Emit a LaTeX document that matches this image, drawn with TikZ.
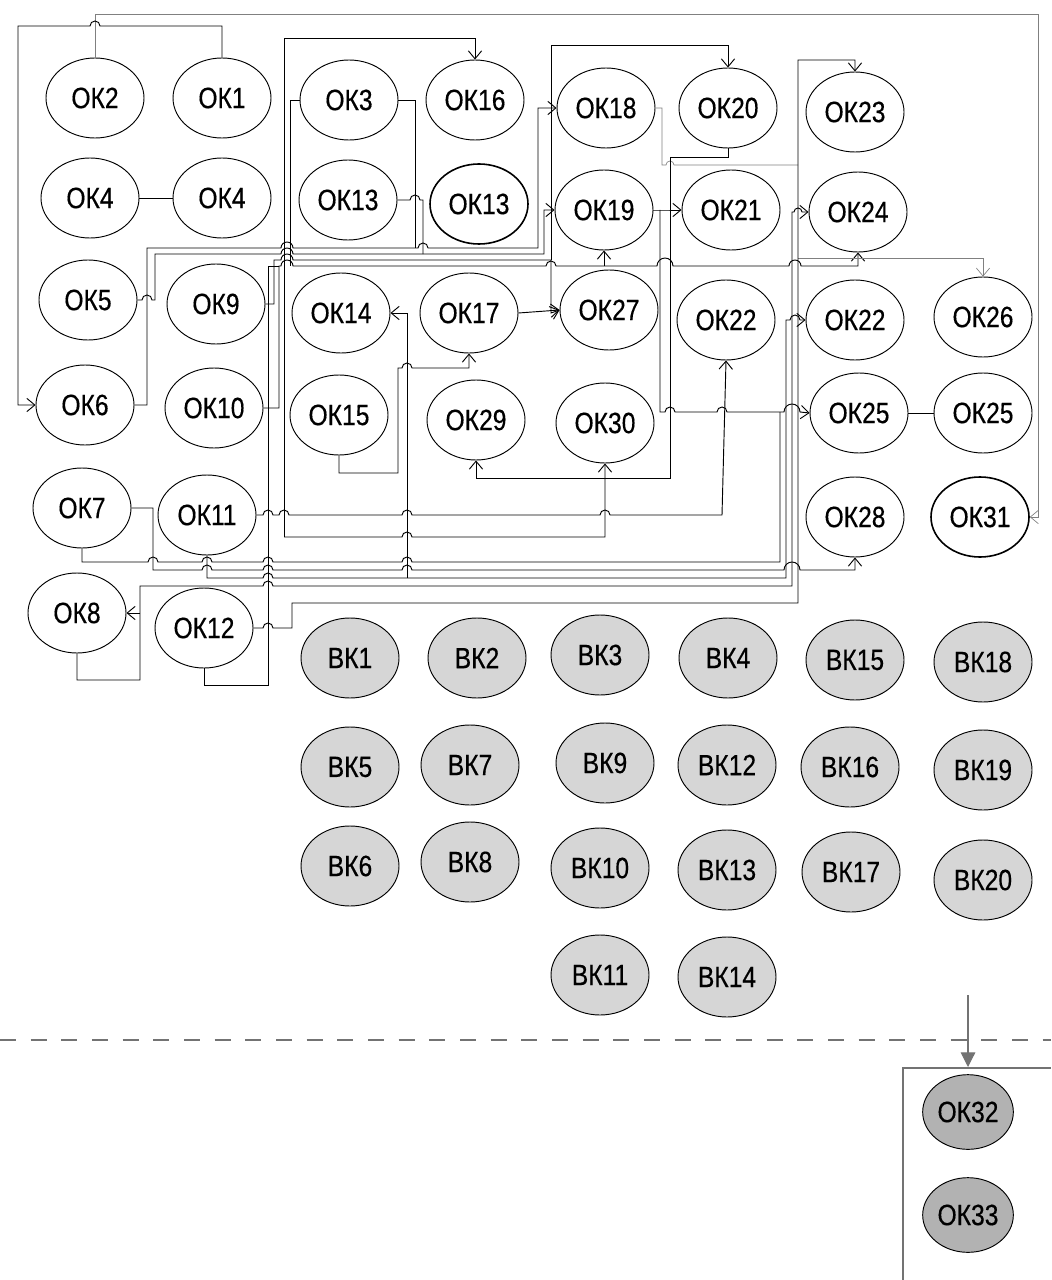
\documentclass[tikz,border=0pt]{standalone}
\usepackage{fontspec}
\setmainfont{Liberation Sans}[FakeStretch=0.84,FakeBold=0.4]
\usetikzlibrary{shapes.geometric,arrows.meta}
\begin{document}
\begin{tikzpicture}[x=0.75pt,y=-0.75pt,
 >={Straight Barb[length=6pt,width=10pt]},
 ok/.style={ellipse,draw,line width=0.7pt,minimum width=73.5pt,minimum height=60pt,inner sep=0pt,font=\fontsize{22}{23}\selectfont},
 bk/.style={ok,fill=black!16},
 fin/.style={ok,fill=black!30,minimum width=68pt,minimum height=56pt},
 wire/.style={line width=0.7pt},
 thinw/.style={line width=0.5pt,black!50},
 hop/.style args={#1/#2/#3}{insert path={-- ({#1-#3},#2) arc (180:360:#3)}}
]
\useasboundingbox (0,0) rectangle (1051,1280);

% ---------- OK nodes ----------
\node[ok] (ok2) at (95,98) {ОК2};
\node[ok] (ok1) at (222,98) {ОК1};
\node[ok] (ok3) at (349,100) {ОК3};
\node[ok] (ok16) at (475,100) {ОК16};
\node[ok] (ok18) at (606,108) {ОК18};
\node[ok] (ok20) at (728,108) {ОК20};
\node[ok] (ok23) at (855,112) {ОК23};
\node[ok] (ok4a) at (90,198) {ОК4};
\node[ok] (ok4b) at (222,198) {ОК4};
\node[ok] (ok13a) at (348,200) {ОК13};
\node[ok,line width=1.2pt] (ok13b) at (479,204) {ОК13};
\node[ok] (ok19) at (604,210) {ОК19};
\node[ok] (ok21) at (731,210) {ОК21};
\node[ok] (ok24) at (858,212) {ОК24};
\node[ok] (ok5) at (88,300) {ОК5};
\node[ok] (ok9) at (216,304) {ОК9};
\node[ok] (ok14) at (341,313) {ОК14};
\node[ok] (ok17) at (469,313) {ОК17};
\node[ok] (ok27) at (609,310) {ОК27};
\node[ok] (ok22a) at (726,320) {ОК22};
\node[ok] (ok22b) at (855,320) {ОК22};
\node[ok] (ok26) at (983,317) {ОК26};
\node[ok] (ok6) at (85,405) {ОК6};
\node[ok] (ok10) at (214,408) {ОК10};
\node[ok] (ok15) at (339,415) {ОК15};
\node[ok] (ok29) at (476,420) {ОК29};
\node[ok] (ok30) at (605,423) {ОК30};
\node[ok] (ok25a) at (859,413) {ОК25};
\node[ok] (ok25b) at (983,413) {ОК25};
\node[ok] (ok7) at (82,508) {ОК7};
\node[ok] (ok11) at (207,515) {ОК11};
\node[ok] (ok28) at (855,517) {ОК28};
\node[ok,line width=1.2pt] (ok31) at (980,517) {ОК31};
\node[ok] (ok8) at (77,613) {ОК8};
\node[ok] (ok12) at (204,628) {ОК12};

% ---------- BK nodes ----------
\node[bk] (bk1) at (350,658) {ВК1};
\node[bk] (bk2) at (477,658) {ВК2};
\node[bk] (bk3) at (600,655) {ВК3};
\node[bk] (bk4) at (728,658) {ВК4};
\node[bk] (bk15) at (855,660) {ВК15};
\node[bk] (bk18) at (983,662) {ВК18};
\node[bk] (bk5) at (350,767) {ВК5};
\node[bk] (bk7) at (470,765) {ВК7};
\node[bk] (bk9) at (605,763) {ВК9};
\node[bk] (bk12) at (727,765) {ВК12};
\node[bk] (bk16) at (850,767) {ВК16};
\node[bk] (bk19) at (983,770) {ВК19};
\node[bk] (bk6) at (350,866) {ВК6};
\node[bk] (bk8) at (470,862) {ВК8};
\node[bk] (bk10) at (600,868) {ВК10};
\node[bk] (bk13) at (727,870) {ВК13};
\node[bk] (bk17) at (851,872) {ВК17};
\node[bk] (bk20) at (983,880) {ВК20};
\node[bk] (bk11) at (600,975) {ВК11};
\node[bk] (bk14) at (727,977) {ВК14};

% ---------- lower block ----------
\node[fin] (ok32) at (968,1112) {ОК32};
\node[fin] (ok33) at (968,1215) {ОК33};
\draw[black!55,line width=0.8pt,dash pattern=on 12pt off 11pt] (0,1040) -- (1051,1040);
\coordinate (arrtop) at (968,995);
\coordinate (boxtop) at (968,1067);
\draw[black!55,line width=0.8pt,-{Triangle[length=11pt,width=11pt]}] (arrtop) -- (boxtop);
\draw[black!55,line width=0.8pt] (903,1280) -- (903,1068) -- (1051,1068);

% ---------- connectors ----------
\draw[thinw,->] (ok2.north) -- (95,14) -- (1038,14) -- (1038,517) -- (ok31.east);
\draw[wire,<-] (ok6.west) -- (18,405) -- (18,26) [hop=95/26/5] -- (222,26) -- (ok1.north);
\draw[wire] (ok4a) -- (ok4b);
\draw[wire] (ok25a) -- (ok25b);

\draw[wire,->] (284,537) -- (284,38) -- (475,38) -- (ok16.north);
\draw[wire,->] (284,537) [hop=407/537/5] -- (605,537) -- (ok30.south);

\draw[wire] (ok3.west) -- (290,100) -- (290,266);
\draw[wire] (ok3.east) -- (415,100) -- (415,248);
\draw[wire] (ok13a.east) [hop=415/200/5] -- (423,200) -- (423,254);

\draw[wire,->] (ok6.east) -- (147,405) -- (147,248) [hop=287/248/6] [hop=423/248/5] -- (538,248) -- (538,108) -- (ok18.west);
\draw[wire,->] (ok5.east) [hop=147/300/5] -- (155,300) -- (155,254) [hop=287/254/6] -- (544,254) -- (544,210) -- (ok19.west);
\draw[wire,->] (ok9.east) -- (274,304) -- (274,260) [hop=287/260/6] -- (551,260) -- (551,313) -- (ok27.west);
\draw[wire,->] (551,260) -- (551,45) -- (728,45) -- (ok20.north);
\draw[wire,->] (ok10.east) -- (279,408) -- (279,266) [hop=287/266/6] [hop=551/266/5] [hop=665/266/8] [hop=795/266/6] -- (858,266) -- (ok24.south);
\draw[wire,->] (604,266) -- (ok19.south);
\draw[wire] (ok12.south) -- (204,685) -- (268,685) -- (268,266) -- (279,266);

\draw[wire,->] (ok11.east) [hop=268/515/5] [hop=284/515/5] [hop=407/515/5] [hop=605/515/5] -- (722,515) -- (ok22a.south);
\draw[wire,->] (ok15.south) -- (339,473) -- (398,473) -- (398,368) [hop=407/368/5] -- (469,368) -- (ok17.south);
\draw[wire,->] (407,578) -- (407,313) -- (ok14.east);
\draw[wire,->] (ok17.east) -- (ok27.west);

\draw[thinw] (ok18.east) -- (662,108) -- (662,165) [hop=670/165/4] -- (798,165);
\draw[thinw,->] (798,258) -- (983,258) -- (ok26.north);
\draw[wire,->] (ok20.south) -- (728,157) -- (670,157) -- (670,478) -- (476,478) -- (ok29.south);
\draw[wire,->] (ok19.east) -- (660,210) -- (ok21.west);
\draw[wire,->] (660,210) -- (660,412) [hop=670/412/5] [hop=722/412/5] [hop=792/412/8] -- (ok25a.west);

\draw[wire] (ok7.south) -- (82,562) [hop=153/562/5] [hop=207/562/5] [hop=268/562/5] [hop=407/562/5] -- (780,562) -- (780,412);
\draw[wire,->] (ok7.east) -- (153,508) -- (153,570) [hop=207/570/5] [hop=268/570/5] [hop=407/570/5] [hop=792/570/8] -- (855,570) -- (ok28.south);
\draw[wire,->] (ok11.south) -- (207,578) [hop=268/578/5] -- (786,578) -- (786,320) [hop=795/320/5] -- (ok22b.west);
\draw[wire,->] (ok8.south) -- (77,680) -- (140,680) -- (140,586) [hop=268/586/5] -- (792,586) -- (792,212) [hop=798/212/4] -- (ok24.west);
\draw[wire,->] (140,613) -- (ok8.east);
\draw[wire,->] (ok12.east) [hop=268/628/5] -- (292,628) -- (292,603) -- (798,603) -- (798,60) -- (855,60) -- (ok23.north);
\end{tikzpicture}
\end{document}
